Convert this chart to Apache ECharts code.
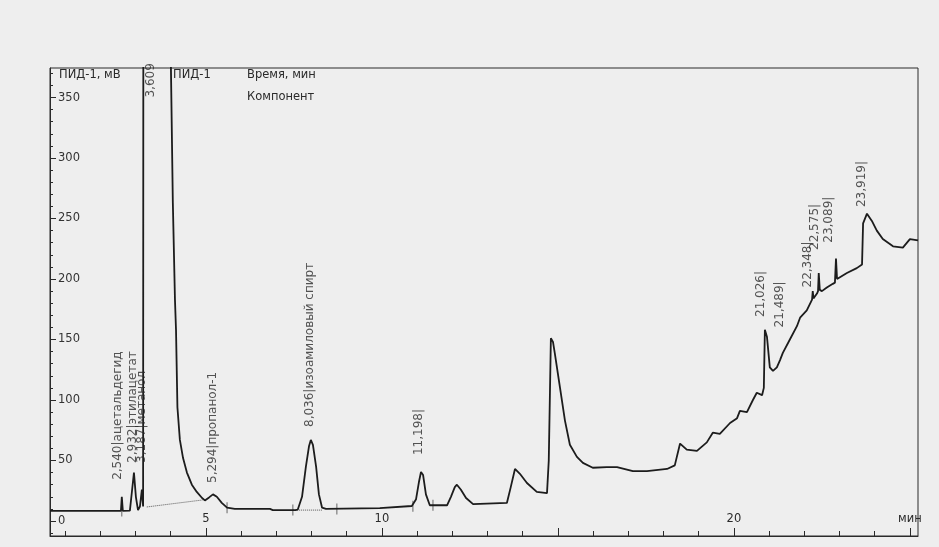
<!DOCTYPE html>
<html>
<head>
<meta charset="utf-8">
<script src="https://cdn.jsdelivr.net/npm/echarts@6/dist/echarts.min.js"></script>
<style>
  html, body { margin: 0; padding: 0; background: #eeeeee; }
  #chart { width: 939px; height: 547px; }
</style>
</head>
<body>
<div id="chart"></div>
<script>
// retention time, min / detector signal, mV
var times = [0.57, 2.50, 2.585, 2.61, 2.64, 2.84, 2.90, 2.955, 3.01, 3.07, 3.125, 3.18, 3.215, 3.24, 3.61, 3.99, 4.006,
  4.06, 4.12, 4.15, 4.19, 4.26, 4.35, 4.46, 4.60, 4.74, 4.89, 4.97, 5.09, 5.20, 5.31, 5.45, 5.60, 5.82, 6.82, 6.90,
  7.55, 7.61, 7.73, 7.84, 7.93, 7.98, 8.04, 8.13, 8.21, 8.30, 8.41, 9.94, 10.85, 10.97, 11.05, 11.11, 11.17, 11.25,
  11.36, 11.85, 11.96, 12.07, 12.13, 12.24, 12.39, 12.59, 13.55, 13.66, 13.78, 13.92, 14.12, 14.40, 14.69, 14.74,
  14.77, 14.80, 14.86, 14.91, 15.06, 15.20, 15.34, 15.54, 15.71, 15.99, 16.39, 16.68, 17.13, 17.53, 18.10, 18.32,
  18.47, 18.66, 18.95, 19.23, 19.40, 19.60, 19.89, 20.09, 20.17, 20.37, 20.54, 20.65, 20.80, 20.85, 20.88, 20.94,
  21.02, 21.11, 21.22, 21.31, 21.39, 21.59, 21.79, 21.88, 22.07, 22.22, 22.24, 22.26, 22.36, 22.39, 22.41, 22.44,
  22.50, 22.64, 22.81, 22.87, 22.90, 22.93, 22.95, 23.21, 23.49, 23.64, 23.67, 23.78, 23.92, 24.06, 24.23, 24.52,
  24.80, 25.00, 25.23];
var signal = [8.3, 8.3, 8.3, 20, 8.3, 8.5, 25, 40, 20, 9, 12, 26, 12, 1500, 3000, 1500, 374,
  263, 183, 158, 94, 67, 52, 40, 30, 24, 19, 17, 19.5, 22, 20, 15, 11, 10, 10, 9,
  9, 9.5, 20, 45, 62, 67, 63, 45, 22, 11, 10, 10.7, 12.4, 18, 32, 40.5, 38, 22,
  13, 13, 20, 28, 30, 26, 19, 14, 14.9, 28, 43, 39, 31.4, 24, 23, 50,
  100, 151, 148, 139, 110, 83, 63, 53, 48, 44, 44.6, 44.6, 41.3, 41.3, 43, 46,
  64, 59, 58, 65, 73, 72, 81, 85, 91, 90, 100, 106, 104, 110, 158, 152,
  127, 124, 127, 133, 139, 150, 161, 168, 174, 183, 190, 184, 188, 190, 205, 191,
  190, 193, 196, 197, 217, 200, 201, 205, 209, 212, 246, 254, 248, 240, 233, 227,
  226, 233, 232];

// dotted integration baselines
var baseTimes = [3.32, 4.91, null, 7.47, 8.30];
var baseValues = [11.6, 17.4, null, 9, 9];

// peak start/end markers on the baseline
var markerTimes = [2.61, 5.60, 7.47, 8.72, 10.88, 11.45];
var markerValues = [8.3, 11, 9, 10, 12.2, 13];

// peak annotations
var peakNames = ['2,540|ацетальдегид', '2,932|этилацетат', '3,187|метанол', '3,609', '5,294|пропанол-1',
  '8,036|изоамиловый спирт', '11,198|', '21,026|', '21,489|', '22,348|', '22,575|', '23,089|', '23,919|'];
var peakLabelTimes = [2.50, 2.93, 3.18, 3.44, 5.20, 7.95, 11.05, 20.77, 21.31, 22.10, 22.30, 22.70, 23.64];
var peakLabelLevels = [34, 48, 48, 350, 31.4, 77.7, 54.5, 168.6, 160, 193, 224, 230, 259.5];

var yMajor = [0, 50, 100, 150, 200, 250, 300, 350];
var yMinor = [];
for (var i = -10; i <= 370; i += 10) yMinor.push(i);
var xMinor = [];
for (var m = 1; m <= 25; m++) xMinor.push(m);
var xMajor = [5, 10, 15, 20, 25];
var xLabels = [5, 10, 20, 25];

var font = 'DejaVu Sans';
var ink = '#1c1c1c';
var textInk = '#2a2a2a';

var chart = echarts.init(document.getElementById('chart'));
chart.setOption({
  backgroundColor: '#eeeeee',
  animation: false,
  grid: { left: 50, right: 21, top: 68, bottom: 11, show: true, borderColor: '#2a2a2a', borderWidth: 1 },
  graphic: [
    { type: 'text', left: 59, top: 69, style: { text: 'ПИД-1, мВ', font: '11.5px ' + font, fill: textInk } },
    { type: 'text', left: 173, top: 69, style: { text: 'ПИД-1', font: '11.5px ' + font, fill: textInk } },
    { type: 'text', left: 247, top: 69, style: { text: 'Время, мин', font: '11.5px ' + font, fill: textInk } },
    { type: 'text', left: 247, top: 91, style: { text: 'Компонент', font: '11.5px ' + font, fill: textInk } }
  ],
  xAxis: [{
    type: 'value', min: 0.57, max: 25.23,
    axisLine: { show: true, onZero: false, lineStyle: { color: '#2a2a2a' } },
    axisTick: { show: true, inside: true, length: 5, customValues: xMinor, lineStyle: { color: '#2a2a2a' } },
    axisLabel: {
      show: true, inside: true, margin: 11, customValues: xLabels,
      color: textInk, fontFamily: font, fontSize: 11.5,
      formatter: function (v) { return v === 25 ? 'мин' : String(v); }
    },
    splitLine: { show: false }
  }, {
    type: 'value', min: 0.57, max: 25.23, position: 'bottom',
    axisLine: { show: false, onZero: false },
    axisTick: { show: true, inside: true, length: 8, customValues: xMajor, lineStyle: { color: '#2a2a2a' } },
    axisLabel: { show: false },
    splitLine: { show: false }
  }],
  yAxis: [{
    type: 'value', min: -12.4, max: 374.4,
    axisLine: { show: true, onZero: false, lineStyle: { color: '#2a2a2a' } },
    axisTick: { show: true, inside: true, length: 6, customValues: yMajor, lineStyle: { color: '#2a2a2a' } },
    axisLabel: { show: true, inside: true, margin: 8, customValues: yMajor, color: '#333', fontFamily: font, fontSize: 11.5 },
    splitLine: { show: false }
  }, {
    type: 'value', min: -12.4, max: 374.4, position: 'left',
    axisLine: { show: false, onZero: false },
    axisTick: { show: true, inside: true, length: 3, customValues: yMinor, lineStyle: { color: '#2a2a2a' } },
    axisLabel: { show: false },
    splitLine: { show: false }
  }],
  series: [{
    type: 'line',
    data: times.map(function (t, k) { return [t, signal[k]]; }),
    symbol: 'none',
    clip: true,
    lineStyle: { color: ink, width: 1.8 },
    z: 3
  }, {
    type: 'line',
    data: baseTimes.map(function (t, k) { return t === null ? '-' : [t, baseValues[k]]; }),
    symbol: 'none',
    connectNulls: false,
    lineStyle: { color: '#555', width: 1, type: 'dotted' },
    z: 2
  }, {
    type: 'scatter',
    data: markerTimes.map(function (t, k) { return [t, markerValues[k]]; }),
    symbol: 'rect',
    symbolSize: [1, 11],
    itemStyle: { color: '#444' },
    z: 2
  }, {
    type: 'scatter',
    data: peakLabelTimes.map(function (t, k) { return [t, peakLabelLevels[k]]; }),
    symbolSize: 0,
    label: {
      show: true,
      position: 'inside',
      rotate: 90,
      align: 'left',
      verticalAlign: 'middle',
      color: textInk,
      fontFamily: font,
      fontSize: 12,
      formatter: function (p) { return peakNames[p.dataIndex]; }
    },
    z: 4
  }]
});
</script>
</body>
</html>
